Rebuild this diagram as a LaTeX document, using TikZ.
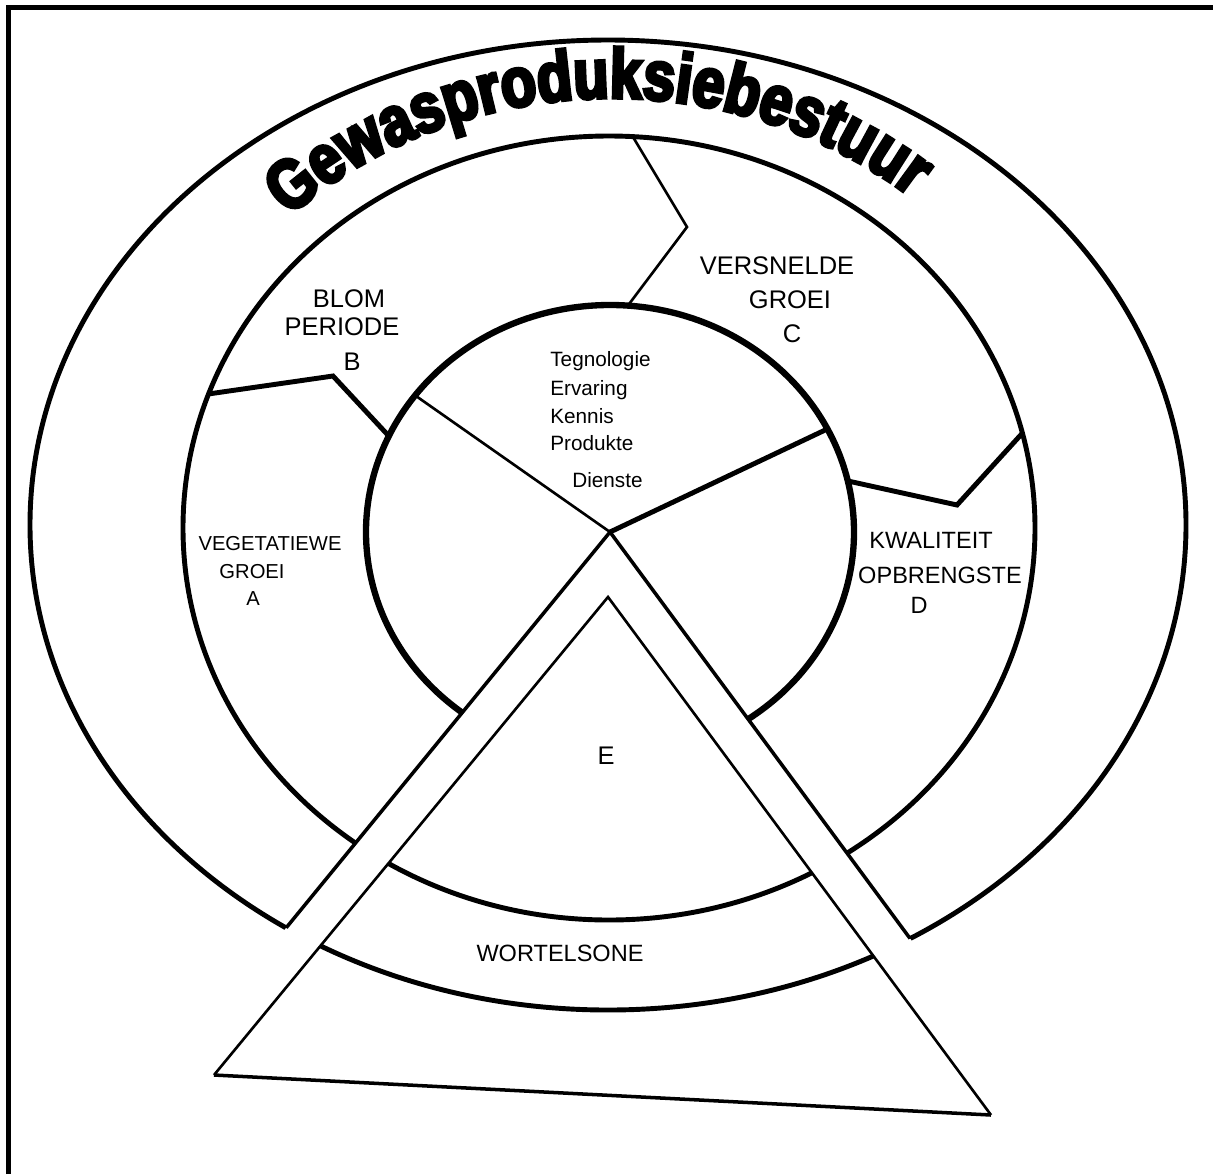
\documentclass[tikz,border=0pt]{standalone}
\usepackage{fontspec}
\setmainfont{Liberation Sans}
\newfontfamily\titlefont[FakeBold=5, FakeStretch=0.82]{Liberation Sans Bold}
\usetikzlibrary{decorations.text}

\begin{document}
\begin{tikzpicture}[x=0.02cm, y=-0.02cm,
    ringline/.style={line width=2.8pt},
    coreline/.style={line width=3.6pt},
    bandline/.style={line width=2pt},
    thinline/.style={line width=1.5pt},
    thickline/.style={line width=2.8pt},
    lbl/.style={inner sep=0pt, anchor=base, font=\fontsize{14.5}{16}\selectfont},
    lblmid/.style={lbl, font=\fontsize{13.4}{15}\selectfont},
    lblsmall/.style={lbl, font=\fontsize{11.5}{13}\selectfont},
    lblcore/.style={inner sep=0pt, anchor=base west, font=\fontsize{11.8}{13}\selectfont}]
  \useasboundingbox (0,0) rectangle (1213,1174);
  % Frame
  \draw[line width=2.8pt] (8.5,1174) -- (8.5,7.5) -- (1213,7.5);
  % Key points
  \coordinate (apex) at (610,532);
  \coordinate (tA) at (608,597);
  \coordinate (tL) at (214,1075);
  \coordinate (tR) at (991,1115);
  \coordinate (farL) at (-20,1302);
  \coordinate (farR) at (1202,1334);
  % Rings
  \draw[ringline] (608,525) ellipse [x radius=578, y radius=485];
  \draw[ringline] (609,528) ellipse [x radius=426, y radius=392];
  \draw[coreline] (610,532) ellipse [x radius=244, y radius=227];
  % Wedge cut out of the rings
  \fill[white] (apex) -- (farL) -- (farR) -- cycle;
  % Root zone inside the triangle
  \begin{scope}
    \clip (tA) -- (tL) -- (tR) -- cycle;
    \draw[ringline] (608,525) ellipse [x radius=578, y radius=485];
    \draw[ringline] (609,528) ellipse [x radius=426, y radius=392];
  \end{scope}
  % Band
  \begin{scope}
    \clip (608,525) ellipse [x radius=578, y radius=485];
    \draw[bandline] (farL) -- (apex) -- (farR);
  \end{scope}
  % Triangle
  \draw[thinline] (tL) -- (tA) -- (tR);
  \draw[bandline] (tL) -- (tR);
  % Sector borders
  \coordinate (ab1) at ({609+426*cos(160)},{528-392*sin(160)});
  \coordinate (ab2) at (333,376);
  \coordinate (ab3) at ({610+244*cos(155)},{532-227*sin(155)});
  \coordinate (bc1) at ({609+426*cos(86.8)},{528-392*sin(86.8)});
  \coordinate (bc2) at (687,227);
  \coordinate (bc3) at ({610+244*cos(85.8)},{532-227*sin(85.8)});
  \coordinate (cd1) at ({609+426*cos(14)},{528-392*sin(14)});
  \coordinate (cd2) at (957,505);
  \coordinate (cd3) at ({610+244*cos(13)},{532-227*sin(13)});
  \draw[thickline] (ab1) -- (ab2) -- (ab3);
  \draw[thinline] (bc1) -- (bc2) -- (bc3);
  \draw[thickline] (cd1) -- (cd2) -- (cd3);
  % Core dividers
  \coordinate (coreL) at ({610+244*cos(143)},{532-227*sin(143)});
  \coordinate (coreR) at ({610+244*cos(27)},{532-227*sin(27)});
  \draw[thinline] (apex) -- (coreL);
  \draw[thickline] (apex) -- (coreR);
  % Title
  \path[decorate, decoration={text along path, text align=center,
        text format delimiters={|}{|},
        text={|\titlefont\fontsize{40}{44}\selectfont|Gewasproduksiebestuur}}]
    plot[variable=\t, domain=152:32, samples=61, smooth]
      ({612+468*cos(\t)},{528-430*sin(\t)});
  % Labels
  \node[lbl] (blom) at (349,307) {BLOM};
  \node[lbl] (periode) at (342,335) {PERIODE};
  \node[lbl] (secB) at (352,370) {B};
  \node[lbl] (versnelde) at (777,274) {VERSNELDE};
  \node[lbl] (groeiC) at (790,308) {GROEI};
  \node[lbl] (secC) at (792,342) {C};
  \node[lblsmall] (vegetatiewe) at (270,550) {VEGETATIEWE};
  \node[lblsmall] (groeiA) at (252,578) {GROEI};
  \node[lblsmall] (secA) at (253,605) {A};
  \node[lblmid] (kwaliteit) at (931,548) {KWALITEIT};
  \node[lblmid] (opbrengste) at (940,583) {OPBRENGSTE};
  \node[lblmid] (secD) at (919,613) {D};
  \node[lblmid] (wortelsone) at (560,961) {WORTELSONE};
  \node[lbl] (secE) at (606,764) {E};
  % Core
  \node[lblcore] (tegnologie) at (550,366) {Tegnologie};
  \node[lblcore] (ervaring) at (550,395) {Ervaring};
  \node[lblcore] (kennis) at (550,423) {Kennis};
  \node[lblcore] (produkte) at (550,450) {Produkte};
  \node[lblcore] (dienste) at (572,487) {Dienste};
\end{tikzpicture}
\end{document}
